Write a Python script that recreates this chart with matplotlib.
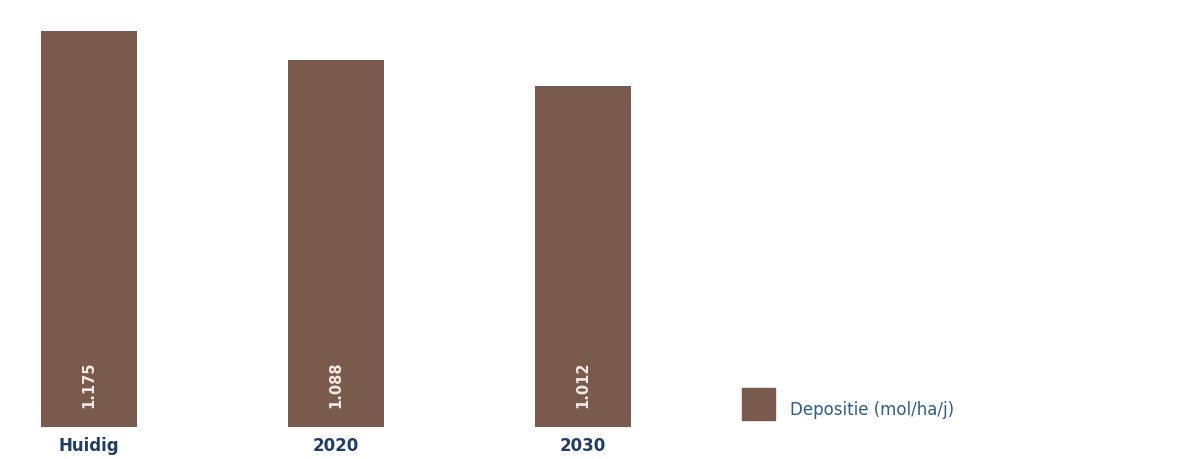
import matplotlib
matplotlib.use("Agg")
import matplotlib.pyplot as plt
from matplotlib.patches import Rectangle

categories = ["Huidig", "2020", "2030"]
values = [1175, 1088, 1012]
value_labels = ["1.175", "1.088", "1.012"]
legend_label = "Depositie (mol/ha/j)"

bar_color = "#7B5A4E"
tick_color = "#1F3D66"
legend_text_color = "#2E5C8E"

W, H = 1184, 459
fig = plt.figure(figsize=(W / 100, H / 100), dpi=100)

ax_left_px, ax_right_px = 0, 700
ax_top_px, ax_bottom_px = 10, 427
ax = fig.add_axes([ax_left_px / W, (H - ax_bottom_px) / H,
                   (ax_right_px - ax_left_px) / W, (ax_bottom_px - ax_top_px) / H])

spacing = 247.0
c0 = 89.0
ax.set_xlim((ax_left_px - c0) / spacing, (ax_right_px - c0) / spacing)
ax.set_ylim(0, (ax_bottom_px - ax_top_px) / 396.0 * 1175)

x = list(range(len(categories)))
ax.bar(x, values, width=96 / spacing, color=bar_color, edgecolor="none")

for xi, lab in zip(x, value_labels):
    ax.text(xi, 125, lab, rotation=90, ha="center", va="center",
            color="#F2ECE4", fontsize=10.5, fontweight="bold")

ax.set_xticks(x)
ax.set_xticklabels(categories, fontsize=12, fontweight="bold", color=tick_color)
ax.tick_params(axis="x", length=0, pad=7)
ax.set_yticks([])
for s in ax.spines.values():
    s.set_visible(False)

# legend
fig.patches.append(Rectangle((742 / W, (H - 420) / H), 33 / W, 32 / H,
                             transform=fig.transFigure, color=bar_color, zorder=5))
fig.text(790 / W, (H - 410) / H, legend_label, color=legend_text_color,
         fontsize=12, va="center", ha="left")

fig.savefig("out.png", dpi=100, facecolor="white")
